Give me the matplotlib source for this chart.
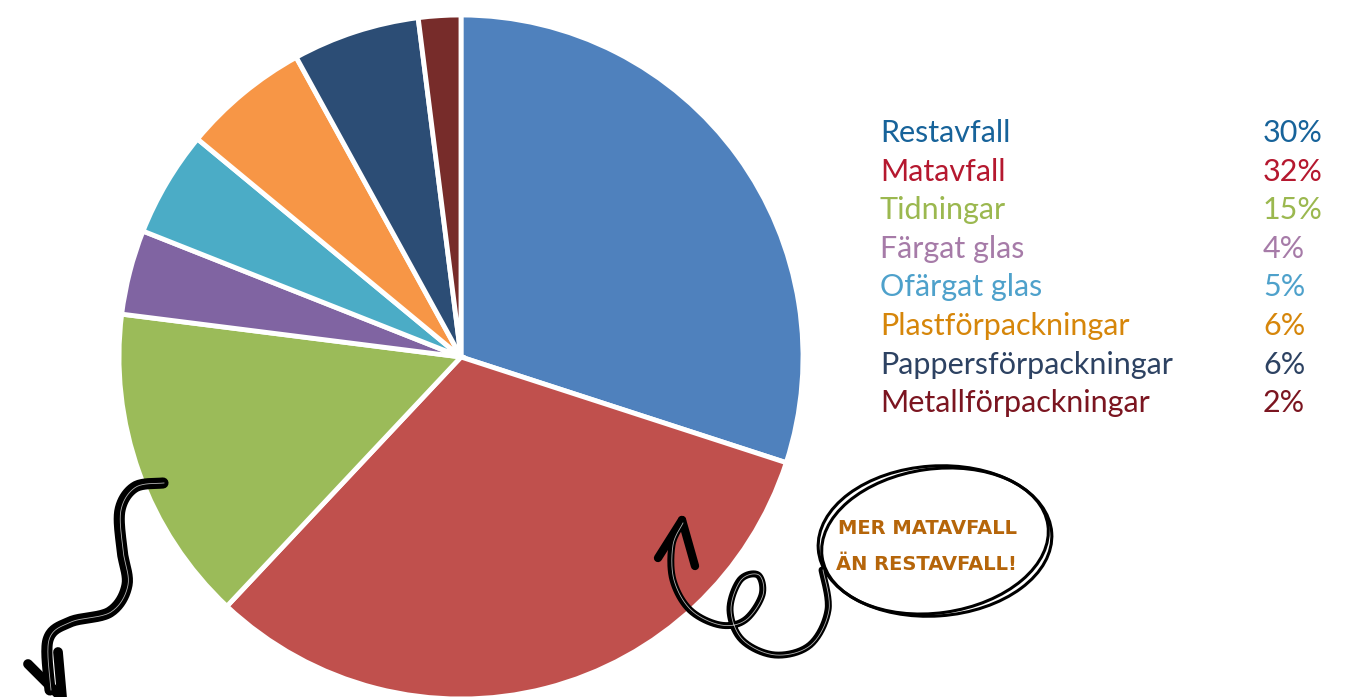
import matplotlib.pyplot as plt
import numpy as np
from matplotlib.patches import Ellipse

# waste composition
labels = ["Restavfall", "Matavfall", "Tidningar", "Färgat glas", "Ofärgat glas",
          "Plastförpackningar", "Pappersförpackningar", "Metallförpackningar"]
shares = [30, 32, 15, 4, 5, 6, 6, 2]
slice_colors = ["#4f81bd", "#c0504d", "#9bbb59", "#8064a2", "#4bacc6",
                "#f79646", "#2c4d75", "#772c2a"]
text_colors = ["#17639a", "#b5182f", "#9bb84f", "#a67ba8", "#4ea1cb",
               "#d6860a", "#2d4262", "#7b1520"]

W, H = 1360, 697
fig = plt.figure(figsize=(13.6, 6.97), dpi=100)
ax = fig.add_axes([0, 0, 1, 1])


def py(y):
    # pixel row -> data y
    return H - y


ax.pie(shares, colors=slice_colors, startangle=90, counterclock=False,
       center=(461, py(357)), radius=342, frame=True,
       wedgeprops=dict(edgecolor="white", linewidth=3.5))
ax.set_xlim(0, W)
ax.set_ylim(0, H)
ax.set_aspect("equal")
ax.axis("off")

# legend as text list
font = "Lato"
for i, (lab, val, c) in enumerate(zip(labels, shares, text_colors)):
    y = py(133 + i * 38.6)
    ax.text(880, y, lab, color=c, fontsize=22, family=font, va="center", ha="left")
    ax.text(1263, y, f"{val}%", color=c, fontsize=22, family=font, va="center", ha="left")


def smooth(pts, n=20):
    pts = np.asarray(pts, float)
    p = np.vstack([pts[0], pts, pts[-1]])
    out = []
    for i in range(1, len(p) - 2):
        p0, p1, p2, p3 = p[i - 1], p[i], p[i + 1], p[i + 2]
        for t in np.linspace(0, 1, n, endpoint=False):
            out.append(0.5 * ((2 * p1) + (-p0 + p2) * t + (2 * p0 - 5 * p1 + 4 * p2 - p3) * t ** 2
                              + (-p0 + 3 * p1 - 3 * p2 + p3) * t ** 3))
    out.append(pts[-1])
    out = np.array(out)
    return out[:, 0], py(out[:, 1])


def sketch(pts, lw=7, inner=True):
    x, y = smooth(pts)
    ax.plot(x, y, color="black", lw=lw, solid_capstyle="round", zorder=5)
    if inner:
        ax.plot(x + 1, y, color="white", lw=0.6, alpha=0.7, zorder=6)


# left arrow
sketch([(163, 483), (135, 487), (120, 510), (122, 550), (127, 585), (110, 612),
        (70, 622), (48, 640), (50, 690)], lw=8)
sketch([(28, 664), (60, 696)], lw=7, inner=False)
sketch([(58, 652), (62, 697)], lw=7, inner=False)

# right arrow with loop into the ellipse
sketch([(682, 523), (672, 545), (673, 580), (690, 610), (720, 625), (745, 620),
        (762, 595), (758, 575), (740, 580), (730, 610), (742, 640), (775, 655),
        (810, 645), (828, 610), (822, 570)], lw=5)
sketch([(658, 558), (682, 520)], lw=6, inner=False)
sketch([(682, 520), (695, 566)], lw=6, inner=False)

for w, h, ang in [(234, 150, 4), (228, 144, 8)]:
    ax.add_patch(Ellipse((935, py(541)), w, h, angle=ang, fill=False,
                         edgecolor="black", lw=2.2, zorder=5))

ax.text(928, py(528), "MER MATAVFALL", color="#b5650a", fontsize=14,
        family="DejaVu Sans", fontweight="bold", ha="center", va="center", zorder=7)
ax.text(926, py(564), "ÄN RESTAVFALL!", color="#b5650a", fontsize=14,
        family="DejaVu Sans", fontweight="bold", ha="center", va="center", zorder=7)

fig.savefig("out.png", dpi=100)
